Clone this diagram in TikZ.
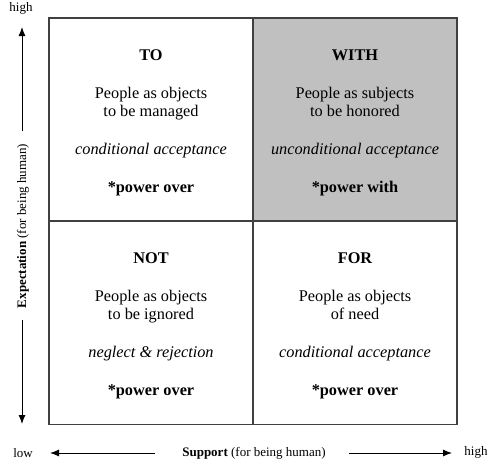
\documentclass[tikz,border=0pt]{standalone}
\usepackage{fontspec}
\setmainfont{Liberation Serif}
\definecolor{quadgrey}{RGB}{192,192,192}
\definecolor{quadline}{RGB}{64,64,64}
\usetikzlibrary{arrows.meta,positioning}

\begin{document}
\begin{tikzpicture}[x=1pt,y=-1pt,
  cell/.style={draw=quadline, line width=1.3pt, minimum width=204pt, minimum height=203pt, inner sep=0pt},
  cellhead/.style={anchor=base, font=\fontsize{16.3}{19}\selectfont\bfseries},
  celltext/.style={anchor=base, font=\fontsize{16.3}{19}\selectfont},
  celltone/.style={anchor=base, font=\fontsize{16.3}{19}\selectfont\itshape},
  axislabel/.style={font=\fontsize{13}{15}\selectfont},
  axisarrow/.style={line width=1pt, -{Latex[length=9pt,width=7pt]}}]
  \useasboundingbox (0,0) rectangle (488,463);

  % TO box
  \node[cell] (to) at (151,119.5) {};
  \node[cellhead] (toHead) at (151,60) {TO};
  \node[celltext] (toLineA) at (151,98) {People as objects};
  \node[celltext] (toLineB) at (151,116) {to be managed};
  \node[celltone] (toTone) at (151,154) {conditional acceptance};
  \node[cellhead] (toPower) at (151,192) {*power over};

  % WITH box
  \node[cell, fill=quadgrey] (with) at (355,119.5) {};
  \node[cellhead] (withHead) at (355,60) {WITH};
  \node[celltext] (withLineA) at (355,98) {People as subjects};
  \node[celltext] (withLineB) at (355,116) {to be honored};
  \node[celltone] (withTone) at (355,154) {unconditional acceptance};
  \node[cellhead] (withPower) at (355,192) {*power with};

  % NOT box
  \node[cell] (not) at (151,323) {};
  \node[cellhead] (notHead) at (151,263) {NOT};
  \node[celltext] (notLineA) at (151,301) {People as objects};
  \node[celltext] (notLineB) at (151,319) {to be ignored};
  \node[celltone] (notTone) at (151,357) {neglect \& rejection};
  \node[cellhead] (notPower) at (151,395) {*power over};

  % FOR box
  \node[cell] (for) at (355,323) {};
  \node[cellhead] (forHead) at (355,263) {FOR};
  \node[celltext] (forLineA) at (355,301) {People as objects};
  \node[celltext] (forLineB) at (355,319) {of need};
  \node[celltone] (forTone) at (355,357) {conditional acceptance};
  \node[cellhead] (forPower) at (355,395) {*power over};

  % expectation axis
  \node[axislabel] (expHigh) at (21,8) {high};
  \node[axislabel, rotate=90] (expect) at (23,226) {\textbf{Expectation} (for being human)};
  \coordinate (expTop) at (22,27);
  \coordinate (expUp) at (22,131);
  \coordinate (expDown) at (22,320);
  \coordinate (expBottom) at (22,424);
  \draw[axisarrow] (expUp) -- (expTop);
  \draw[axisarrow] (expDown) -- (expBottom);

  % support axis
  \node[axislabel] (supLow) at (23,453) {low};
  \node[axislabel] (support) at (254,453) {\textbf{Support} (for being human)};
  \node[axislabel] (supHigh) at (476,452) {high};
  \coordinate (supLeftTail) at (155,453);
  \coordinate (supLeftTip) at (50,453);
  \coordinate (supRightTail) at (349,453);
  \coordinate (supRightTip) at (452,453);
  \draw[axisarrow] (supLeftTail) -- (supLeftTip);
  \draw[axisarrow] (supRightTail) -- (supRightTip);
\end{tikzpicture}
\end{document}
